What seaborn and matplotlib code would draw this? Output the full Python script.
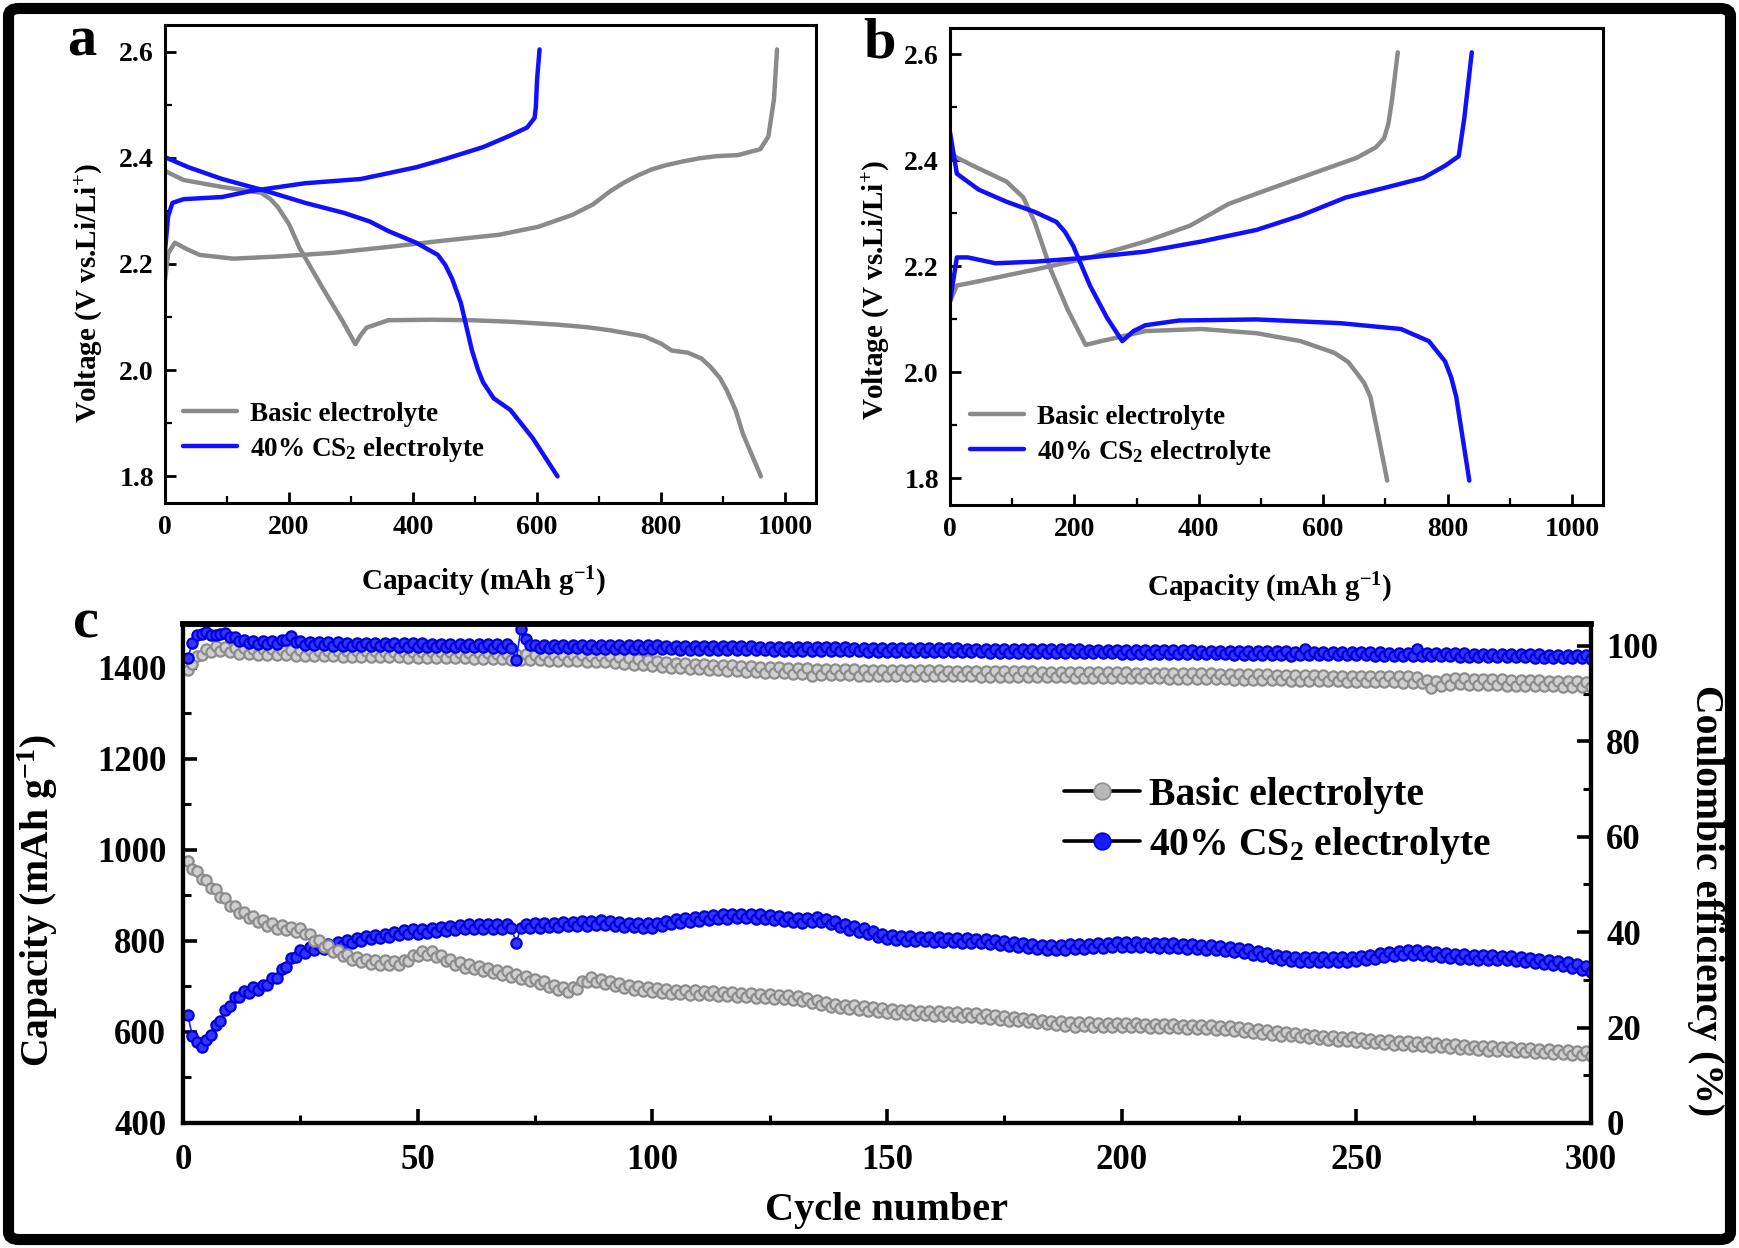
import numpy as np
import pandas as pd
import matplotlib
matplotlib.use("Agg")
import matplotlib.pyplot as plt
import seaborn as sns
from matplotlib.lines import Line2D
from matplotlib.patches import FancyBboxPatch
from matplotlib.ticker import MultipleLocator

# ---------------- data: panel a (voltage profiles) ----------------
a_basic_dis_x = [0, 30, 92, 155, 170, 182, 200, 217, 253, 285, 307, 315, 325, 360, 430, 495, 560, 629, 680, 718, 772, 800, 817, 843, 865, 879, 895, 906, 920, 932, 961]
a_basic_dis_v = [2.375, 2.358, 2.345, 2.334, 2.322, 2.307, 2.275, 2.23, 2.157, 2.095, 2.049, 2.065, 2.08, 2.094, 2.095, 2.094, 2.091, 2.086, 2.081, 2.075, 2.064, 2.05, 2.037, 2.033, 2.022, 2.007, 1.985, 1.962, 1.925, 1.88, 1.80]
a_basic_chg_x = [0, 5, 16, 35, 56, 110, 182, 271, 360, 450, 539, 602, 656, 690, 718, 740, 763, 785, 808, 835, 862, 890, 924, 960, 973, 982, 987]
a_basic_chg_v = [2.17, 2.22, 2.24, 2.228, 2.217, 2.21, 2.214, 2.221, 2.232, 2.244, 2.255, 2.27, 2.292, 2.312, 2.337, 2.353, 2.367, 2.378, 2.386, 2.393, 2.399, 2.403, 2.405, 2.416, 2.44, 2.51, 2.604]
a_cs2_dis_x = [0, 38, 92, 164, 226, 289, 330, 360, 405, 440, 452, 463, 477, 486, 495, 505, 513, 530, 557, 593, 633]
a_cs2_dis_v = [2.401, 2.382, 2.36, 2.337, 2.315, 2.296, 2.28, 2.262, 2.24, 2.217, 2.198, 2.172, 2.127, 2.082, 2.037, 2.0, 1.977, 1.947, 1.925, 1.872, 1.80]
a_cs2_chg_x = [0, 5, 12, 30, 92, 137, 226, 316, 405, 450, 513, 557, 584, 596, 598, 600, 604]
a_cs2_chg_v = [2.225, 2.29, 2.315, 2.322, 2.326, 2.337, 2.352, 2.36, 2.382, 2.397, 2.42, 2.442, 2.457, 2.475, 2.495, 2.547, 2.604]

# ---------------- data: panel b ----------------
b_basic_dis_x = [0, 37, 91, 118, 136, 162, 189, 218, 243, 314, 404, 493, 564, 618, 640, 654, 666, 676, 689, 703]
b_basic_dis_v = [2.412, 2.39, 2.36, 2.33, 2.284, 2.194, 2.119, 2.052, 2.059, 2.078, 2.082, 2.074, 2.059, 2.037, 2.02, 1.999, 1.98, 1.954, 1.879, 1.796]
b_basic_chg_x = [0, 11, 46, 136, 225, 314, 386, 448, 511, 582, 654, 685, 698, 705, 711, 720]
b_basic_chg_v = [2.134, 2.164, 2.172, 2.194, 2.217, 2.247, 2.277, 2.318, 2.345, 2.375, 2.405, 2.425, 2.442, 2.47, 2.517, 2.604]
b_cs2_dis_x = [0, 11, 46, 91, 136, 171, 185, 198, 225, 252, 277, 295, 314, 368, 493, 627, 725, 770, 796, 806, 814, 835]
b_cs2_dis_v = [2.453, 2.375, 2.345, 2.322, 2.303, 2.284, 2.265, 2.239, 2.164, 2.104, 2.059, 2.078, 2.089, 2.098, 2.1, 2.093, 2.082, 2.059, 2.021, 1.99, 1.954, 1.796]
b_cs2_chg_x = [0, 11, 29, 73, 136, 225, 314, 404, 493, 564, 636, 698, 761, 796, 818, 827, 839]
b_cs2_chg_v = [2.134, 2.217, 2.217, 2.206, 2.209, 2.217, 2.228, 2.247, 2.269, 2.296, 2.33, 2.348, 2.367, 2.39, 2.408, 2.48, 2.604]

# ---------------- data: panel c (cycling, 300 cycles) ----------------
basic_capacity = [
    975, 957, 954, 935, 934, 916, 914, 896, 894, 876,
    877, 861, 864, 850, 854, 841, 846, 833, 839, 827,
    834, 823, 830, 820, 828, 815, 816, 799, 801, 786,
    790, 776, 780, 767, 772, 759, 764, 753, 760, 750,
    758, 748, 757, 747, 756, 747, 759, 755, 770, 766,
    778, 770, 777, 764, 769, 756, 761, 748, 753, 741,
    749, 738, 745, 734, 741, 730, 737, 726, 733, 721,
    728, 717, 723, 711, 717, 705, 711, 699, 704, 692,
    699, 688, 698, 695, 712, 709, 720, 709, 716, 705,
    712, 701, 708, 697, 704, 693, 700, 690, 698, 688,
    696, 686, 694, 684, 693, 683, 692, 682, 691, 681,
    690, 680, 689, 679, 688, 678, 687, 677, 686, 676,
    685, 675, 684, 674, 683, 673, 682, 672, 680, 670,
    678, 667, 674, 663, 670, 659, 666, 655, 662, 652,
    660, 650, 658, 648, 656, 646, 654, 644, 652, 642,
    650, 640, 649, 639, 648, 638, 647, 637, 646, 636,
    645, 635, 644, 634, 643, 633, 642, 632, 641, 631,
    639, 629, 637, 627, 635, 625, 633, 623, 631, 621,
    629, 619, 627, 617, 625, 615, 623, 613, 621, 611,
    622, 612, 621, 611, 620, 610, 619, 610, 619, 610,
    619, 610, 619, 610, 618, 609, 618, 609, 617, 608,
    617, 608, 616, 607, 616, 607, 615, 606, 615, 605,
    614, 604, 612, 602, 610, 600, 608, 598, 606, 596,
    604, 594, 602, 592, 600, 590, 598, 588, 596, 586,
    594, 584, 592, 582, 591, 581, 589, 579, 588, 578,
    586, 576, 585, 575, 583, 574, 582, 572, 581, 571,
    579, 570, 578, 568, 577, 567, 575, 566, 574, 564,
    573, 563, 571, 562, 570, 561, 569, 559, 568, 558,
    567, 557, 566, 556, 565, 555, 564, 554, 563, 553,
    562, 552, 561, 551, 560, 550, 559, 549, 558, 548,
]
cs2_capacity = [
    638, 592, 578, 566, 582, 593, 615, 624, 648, 656,
    676, 676, 690, 686, 698, 693, 704, 702, 718, 719,
    739, 742, 762, 764, 779, 774, 786, 779, 790, 783,
    794, 787, 798, 791, 802, 795, 806, 799, 810, 803,
    813, 806, 816, 809, 819, 812, 823, 814, 825, 816,
    827, 818, 829, 820, 831, 822, 833, 824, 835, 825,
    836, 826, 836, 826, 837, 827, 837, 827, 837, 828,
    796, 829, 838, 828, 839, 829, 840, 830, 840, 831,
    841, 832, 842, 833, 843, 833, 844, 834, 845, 835,
    844, 833, 842, 831, 840, 830, 839, 829, 839, 829,
    840, 832, 844, 836, 848, 840, 851, 842, 853, 844,
    855, 846, 857, 848, 858, 849, 859, 850, 860, 850,
    860, 849, 858, 847, 856, 845, 854, 843, 852, 841,
    850, 840, 851, 842, 852, 841, 849, 836, 843, 830,
    837, 824, 832, 820, 828, 815, 822, 809, 816, 804,
    812, 801, 811, 800, 810, 800, 809, 799, 809, 798,
    808, 798, 807, 797, 807, 796, 806, 796, 805, 795,
    804, 793, 802, 791, 800, 788, 797, 786, 795, 784,
    793, 782, 791, 781, 790, 780, 791, 781, 792, 782,
    793, 783, 794, 784, 795, 785, 796, 786, 797, 787,
    797, 787, 797, 787, 796, 786, 796, 785, 795, 785,
    795, 784, 794, 783, 793, 782, 791, 781, 790, 779,
    789, 778, 787, 776, 785, 774, 782, 770, 778, 766,
    774, 762, 770, 758, 766, 755, 764, 754, 764, 754,
    764, 754, 764, 754, 764, 754, 764, 754, 764, 755,
    766, 757, 769, 761, 773, 765, 776, 767, 778, 769,
    779, 769, 779, 768, 777, 766, 775, 764, 773, 762,
    772, 761, 771, 760, 770, 759, 769, 758, 768, 758,
    767, 757, 766, 755, 764, 753, 762, 751, 760, 749,
    758, 747, 756, 745, 753, 741, 749, 737, 745, 732,
]
basic_ce = [
    95.0, 96.2, 97.9, 98.0, 99.4, 98.7, 99.9, 98.9, 99.8, 98.7,
    99.6, 98.4, 99.5, 98.3, 99.4, 98.2, 99.3, 98.1, 99.3, 98.0,
    99.2, 98.0, 99.2, 97.9, 99.1, 97.9, 99.1, 97.8, 99.0, 97.8,
    99.0, 97.8, 99.0, 97.7, 98.9, 97.7, 98.9, 97.7, 98.9, 97.6,
    98.9, 97.6, 98.8, 97.6, 98.8, 97.6, 98.8, 97.5, 98.8, 97.5,
    98.7, 97.5, 98.7, 97.5, 98.7, 97.4, 98.7, 97.4, 98.6, 97.4,
    98.6, 97.3, 98.5, 97.3, 98.5, 97.2, 98.4, 97.2, 98.4, 97.1,
    98.3, 97.1, 98.3, 97.0, 98.2, 97.0, 98.2, 96.9, 98.1, 96.9,
    98.1, 96.8, 98.0, 96.8, 98.0, 96.7, 97.9, 96.7, 97.9, 96.6,
    97.8, 96.5, 97.6, 96.3, 97.4, 96.1, 97.2, 95.9, 97.0, 95.7,
    96.8, 95.5, 96.6, 95.4, 96.5, 95.3, 96.4, 95.2, 96.3, 95.1,
    96.2, 95.0, 96.1, 94.9, 96.0, 94.8, 95.9, 94.7, 95.8, 94.6,
    95.7, 94.5, 95.6, 94.4, 95.6, 94.3, 95.5, 94.3, 95.4, 94.2,
    95.4, 94.1, 95.3, 93.6, 95.2, 94.0, 95.2, 93.9, 95.1, 93.9,
    95.1, 93.9, 95.1, 93.8, 95.0, 93.8, 95.0, 93.8, 95.0, 93.8,
    95.0, 93.7, 94.9, 93.7, 94.9, 93.7, 94.9, 93.7, 94.9, 93.6,
    94.9, 93.6, 94.8, 93.6, 94.8, 93.6, 94.8, 93.6, 94.8, 93.5,
    94.8, 93.5, 94.7, 93.5, 94.7, 93.5, 94.7, 93.5, 94.7, 93.4,
    94.7, 93.4, 94.6, 93.4, 94.6, 93.4, 94.6, 93.4, 94.6, 93.3,
    94.6, 93.3, 94.5, 93.3, 94.5, 93.3, 94.5, 93.3, 94.5, 93.2,
    94.5, 93.2, 94.4, 93.2, 94.4, 93.2, 94.4, 93.2, 94.4, 93.1,
    94.4, 93.1, 94.3, 93.1, 94.3, 93.1, 94.3, 93.0, 94.3, 93.0,
    94.2, 93.0, 94.2, 92.9, 94.2, 92.9, 94.1, 92.9, 94.1, 92.8,
    94.1, 92.8, 94.0, 92.8, 94.0, 92.7, 94.0, 92.7, 93.9, 92.7,
    93.9, 92.6, 93.9, 92.6, 93.8, 92.6, 93.8, 92.5, 93.8, 92.5,
    93.7, 92.5, 93.7, 92.4, 93.7, 92.4, 93.6, 92.4, 93.6, 92.3,
    93.6, 92.3, 93.5, 92.2, 92.8, 91.2, 92.6, 91.5, 93.0, 91.8,
    93.2, 92.0, 93.2, 91.9, 93.1, 91.9, 93.1, 91.8, 93.0, 91.8,
    93.0, 91.7, 92.9, 91.7, 92.9, 91.6, 92.8, 91.6, 92.8, 91.5,
    92.7, 91.5, 92.7, 91.4, 92.6, 91.4, 92.6, 91.3, 92.5, 91.3,
]
cs2_ce = [
    97.5, 100.6, 102.2, 102.4, 103.0, 102.3, 102.2, 102.6, 102.8, 101.8,
    101.8, 101.0, 101.3, 100.6, 101.1, 100.5, 101.0, 100.4, 101.0, 100.5,
    101.3, 101.2, 102.0, 100.9, 101.0, 100.2, 100.9, 100.1, 100.8, 100.1,
    100.8, 100.0, 100.8, 100.0, 100.7, 100.0, 100.7, 99.9, 100.7, 99.9,
    100.7, 99.9, 100.6, 99.9, 100.6, 99.8, 100.6, 99.8, 100.6, 99.8,
    100.6, 99.8, 100.5, 99.8, 100.5, 99.7, 100.5, 99.7, 100.5, 99.7,
    100.5, 99.7, 100.4, 99.7, 100.4, 99.6, 100.4, 99.6, 100.4, 99.6,
    97.0, 103.6, 101.4, 100.2, 100.3, 99.6, 100.3, 99.5, 100.3, 99.5,
    100.3, 99.5, 100.2, 99.5, 100.2, 99.4, 100.2, 99.4, 100.2, 99.4,
    100.2, 99.4, 100.1, 99.4, 100.1, 99.3, 100.1, 99.3, 100.1, 99.3,
    100.1, 99.3, 100.0, 99.3, 100.0, 99.2, 100.0, 99.2, 100.0, 99.2,
    100.0, 99.2, 99.9, 99.2, 99.9, 99.1, 99.9, 99.1, 99.9, 99.1,
    99.9, 99.1, 99.8, 99.1, 99.8, 99.0, 99.8, 99.0, 99.8, 99.0,
    99.8, 99.0, 99.7, 99.0, 99.7, 98.9, 99.7, 98.9, 99.7, 98.9,
    99.7, 98.9, 99.6, 98.9, 99.6, 98.8, 99.6, 98.8, 99.6, 98.8,
    99.6, 98.8, 99.6, 98.8, 99.5, 98.8, 99.5, 98.8, 99.5, 98.7,
    99.5, 98.7, 99.5, 98.7, 99.5, 98.7, 99.4, 98.7, 99.4, 98.7,
    99.4, 98.6, 99.4, 98.6, 99.4, 98.6, 99.4, 98.6, 99.3, 98.6,
    99.3, 98.6, 99.3, 98.6, 99.3, 98.5, 99.3, 98.5, 99.3, 98.5,
    99.3, 98.5, 99.2, 98.5, 99.2, 98.5, 99.2, 98.5, 99.2, 98.4,
    99.2, 98.4, 99.2, 98.4, 99.1, 98.4, 99.1, 98.4, 99.1, 98.4,
    99.1, 98.3, 99.1, 98.3, 99.1, 98.3, 99.0, 98.3, 99.0, 98.3,
    99.0, 98.3, 99.0, 98.2, 99.0, 98.2, 98.9, 98.2, 98.9, 98.2,
    98.9, 98.2, 98.9, 98.1, 98.9, 97.8, 98.8, 98.1, 99.4, 98.1,
    98.8, 98.1, 98.8, 98.0, 98.8, 98.0, 98.7, 98.0, 98.7, 98.0,
    98.7, 98.0, 98.7, 97.9, 98.7, 97.9, 98.6, 97.9, 98.6, 97.9,
    98.6, 97.9, 99.3, 97.8, 98.6, 97.8, 98.5, 97.8, 98.5, 97.8,
    98.5, 97.7, 98.5, 97.7, 98.4, 97.7, 98.4, 97.7, 98.4, 97.6,
    98.4, 97.6, 98.3, 97.6, 98.3, 97.6, 98.3, 97.5, 98.3, 97.5,
    98.2, 97.5, 98.2, 97.4, 98.2, 97.4, 98.1, 97.4, 98.1, 97.3,
]

labels = ["Basic electrolyte", "40% CS$_2$ electrolyte"]
GRAY = "#8a8a8a"
BLUE = "#1010ff"

# ---------------- style ----------------
sns.set_theme(style="ticks")
plt.rcParams["font.family"] = ["Liberation Serif", "DejaVu Serif"]
plt.rcParams["font.weight"] = "bold"
plt.rcParams["axes.labelweight"] = "bold"
plt.rcParams["mathtext.default"] = "regular"
plt.rcParams["axes.edgecolor"] = "black"
plt.rcParams["xtick.color"] = "black"
plt.rcParams["ytick.color"] = "black"
plt.rcParams["text.color"] = "black"
plt.rcParams["axes.labelcolor"] = "black"
plt.rcParams["xtick.direction"] = "in"
plt.rcParams["ytick.direction"] = "in"

fig = plt.figure(figsize=(17.39, 12.48), dpi=100)
fig.patch.set_facecolor("white")

ax_a = fig.add_axes([0.0949, 0.5970, 0.3744, 0.3830])
ax_b = fig.add_axes([0.5463, 0.5954, 0.3755, 0.3822])
ax_c = fig.add_axes([0.1052, 0.1002, 0.8097, 0.3998])


def profile_panel(ax, bdx, bdv, bcx, bcv, cdx, cdv, ccx, ccv, leg_anchor, label_x, label_y, ylab_y):
    sns.lineplot(x=bdx, y=bdv, ax=ax, color=GRAY, lw=3.2, sort=False, estimator=None, label=labels[0])
    sns.lineplot(x=bcx, y=bcv, ax=ax, color=GRAY, lw=3.2, sort=False, estimator=None)
    sns.lineplot(x=cdx, y=cdv, ax=ax, color=BLUE, lw=3.2, sort=False, estimator=None, label=labels[1])
    sns.lineplot(x=ccx, y=ccv, ax=ax, color=BLUE, lw=3.2, sort=False, estimator=None)
    ax.set_xlim(0, 1050)
    ax.set_ylim(1.75, 2.65)
    ax.xaxis.set_major_locator(MultipleLocator(200))
    ax.xaxis.set_minor_locator(MultipleLocator(100))
    ax.yaxis.set_major_locator(MultipleLocator(0.2))
    ax.yaxis.set_minor_locator(MultipleLocator(0.1))
    ax.yaxis.set_major_formatter(plt.FormatStrFormatter("%.1f"))
    ax.tick_params(which="major", length=8, width=2, labelsize=20, top=False, right=False)
    ax.tick_params(axis="x", which="major", pad=9)
    ax.tick_params(axis="y", which="major", pad=8)
    ax.tick_params(which="minor", length=5, width=1.6, top=False, right=False)
    for sp in ax.spines.values():
        sp.set_linewidth(2.2)
        sp.set_visible(True)
    ax.set_xlabel("Capacity (mAh g$^{-1}$)", fontsize=21, fontweight="bold", va="center")
    ax.set_ylabel("Voltage (V vs.Li/Li$^{+}$)", fontsize=21, fontweight="bold", va="center")
    ax.xaxis.set_label_coords(0.49, label_y)
    ax.yaxis.set_label_coords(label_x, ylab_y)
    ax.legend(loc="upper left", bbox_to_anchor=leg_anchor, frameon=False, fontsize=19.5,
              handlelength=2.0, handletextpad=0.45, labelspacing=0.3, borderpad=0, borderaxespad=0)


profile_panel(ax_a, a_basic_dis_x, a_basic_dis_v, a_basic_chg_x, a_basic_chg_v,
              a_cs2_dis_x, a_cs2_dis_v, a_cs2_chg_x, a_cs2_chg_v, (0.028, 0.212), -0.117, -0.165, 0.44)
profile_panel(ax_b, b_basic_dis_x, b_basic_dis_v, b_basic_chg_x, b_basic_chg_v,
              b_cs2_dis_x, b_cs2_dis_v, b_cs2_chg_x, b_cs2_chg_v, (0.031, 0.210), -0.113, -0.174, 0.45)

# ---------------- panel c ----------------
ax_c2 = ax_c.twinx()
cycles_b = np.arange(1, len(basic_capacity) + 1)
cycles_c = np.arange(1, len(cs2_capacity) + 1)
cyc_bce = np.arange(1, len(basic_ce) + 1)
cyc_cce = np.arange(1, len(cs2_ce) + 1)

gray_kw = dict(color="#9a9a9a", lw=1.2, marker="o", markersize=7.4, markerfacecolor="#d0d0d0",
               markeredgecolor="#8c8c8c", markeredgewidth=1.6, estimator=None, sort=False)
blue_kw = dict(color="#1a1aff", lw=1.2, marker="o", markersize=7.4, markerfacecolor="#3434ff",
               markeredgecolor="#0000dd", markeredgewidth=1.6, estimator=None, sort=False)

sns.lineplot(x=cycles_c, y=cs2_capacity, ax=ax_c, **blue_kw)
sns.lineplot(x=cycles_b, y=basic_capacity, ax=ax_c, **gray_kw)
sns.lineplot(x=cyc_bce, y=basic_ce, ax=ax_c2, **gray_kw)
sns.lineplot(x=cyc_cce, y=cs2_ce, ax=ax_c2, **blue_kw)

ax_c.set_xlim(0, 300)
ax_c.set_ylim(400, 1496)
ax_c2.set_ylim(0, 104.6)
ax_c.xaxis.set_major_locator(MultipleLocator(50))
ax_c.xaxis.set_minor_locator(MultipleLocator(25))
ax_c.yaxis.set_major_locator(MultipleLocator(200))
ax_c.yaxis.set_minor_locator(MultipleLocator(100))
ax_c2.yaxis.set_major_locator(MultipleLocator(20))
ax_c2.yaxis.set_minor_locator(MultipleLocator(10))

ax_c.tick_params(which="major", length=10, width=2.6, labelsize=25, top=False, right=False)
ax_c.tick_params(which="minor", length=6, width=2.2, top=False, right=False)
ax_c.tick_params(axis="x", which="major", pad=15)
ax_c.tick_params(axis="y", which="major", pad=12)
ax_c2.tick_params(which="major", length=10, width=2.6, labelsize=25, pad=11)
ax_c2.tick_params(which="minor", length=6, width=2.2)
for axx in (ax_c, ax_c2):
    for sp in axx.spines.values():
        sp.set_linewidth(3.0)
        sp.set_visible(True)
ax_c.spines["top"].set_linewidth(4.0)
ax_c2.spines["top"].set_linewidth(4.0)

ax_c.set_xlabel("Cycle number", fontsize=29, fontweight="bold", va="center")
ax_c.set_ylabel("Capacity (mAh g$^{-1}$)", fontsize=28.5, fontweight="bold", va="center")
ax_c2.set_ylabel("Coulombic efficiency (%)", fontsize=28.5, fontweight="bold", rotation=270, va="center")
ax_c.xaxis.set_label_coords(0.5, -0.176)
ax_c.yaxis.set_label_coords(-0.103, 0.445)
ax_c2.yaxis.set_label_coords(1.081, 0.445)

handles_c = [
    Line2D([], [], color="black", lw=2.6, marker="o", markersize=12,
           markerfacecolor="#b8b8b8", markeredgecolor="#909090", markeredgewidth=1.2),
    Line2D([], [], color="black", lw=2.6, marker="o", markersize=12,
           markerfacecolor="#1a1aff", markeredgecolor="#0000e0", markeredgewidth=1.2),
]
ax_c2.legend(handles_c, labels, loc="upper left", bbox_to_anchor=(0.626, 0.693), frameon=False,
             fontsize=28.5, handlelength=1.9, handletextpad=0.25, labelspacing=0.28,
             borderpad=0, borderaxespad=0, numpoints=1)

# ---------------- panel letters ----------------
fig.text(82 / 1739, 1 - 55 / 1248, "a", fontsize=42, fontweight="bold", ha="center", va="baseline")
fig.text(880 / 1739, 1 - 57 / 1248, "b", fontsize=42, fontweight="bold", ha="center", va="baseline")
fig.text(86 / 1739, 1 - 637 / 1248, "c", fontsize=42, fontweight="bold", ha="center", va="baseline")

# ---------------- outer frame ----------------
frame = FancyBboxPatch((0.0049, 0.0068), 0.9902, 0.9864,
                       boxstyle="round,pad=0,rounding_size=0.006",
                       transform=fig.transFigure, facecolor="none", edgecolor="black",
                       linewidth=8, zorder=10)
fig.patches.append(frame)

fig.savefig("out.png", dpi=100, facecolor="white")
